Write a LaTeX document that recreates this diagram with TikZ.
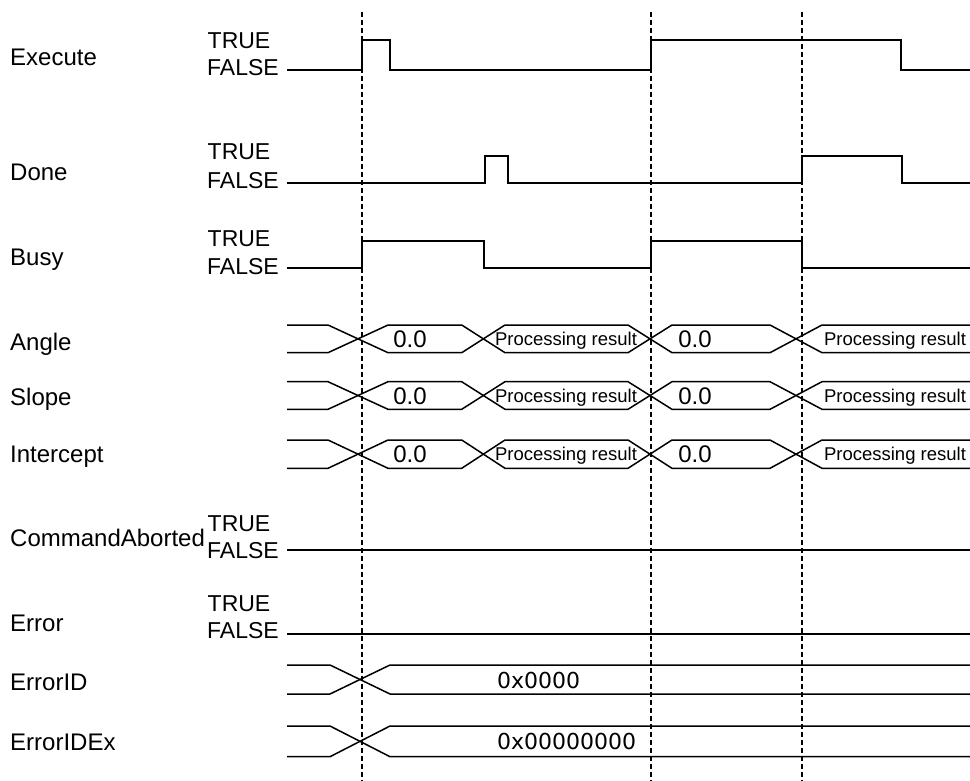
\documentclass[tikz,border=0pt]{standalone}
\usepackage{fontspec}
\setmainfont{Liberation Sans}
\newfontfamily\hexfont{DejaVu Sans}
\begin{document}
\begin{tikzpicture}[x=1pt,y=-1pt,
  wsig/.style={line width=2pt, line join=miter},
  wbus/.style={line width=1.5pt, line join=miter},
  wguide/.style={line width=1.5pt, dash pattern=on 5pt off 3pt},
  lname/.style={inner sep=0pt, anchor=west, text height=17.2pt, text depth=0pt, font=\fontsize{24}{24}\selectfont},
  ltf/.style={inner sep=0pt, anchor=west, text height=16.5pt, text depth=0pt, font=\fontsize{23}{23}\selectfont},
  lval/.style={inner sep=0pt, text height=17.2pt, text depth=0pt, font=\fontsize{24}{24}\selectfont},
  lres/.style={inner sep=0pt, text height=13.2pt, text depth=0pt, font=\fontsize{18.5}{18.5}\selectfont},
  lhex/.style={inner sep=0pt, anchor=west, text height=16pt, text depth=0pt, font=\hexfont\fontsize{22}{22}\selectfont}]
\useasboundingbox (0,0) rectangle (970,781);

% guide lines
\foreach \gx in {362,651,802}
  \draw[wguide] (\gx,12) -- (\gx,781);

% signal names
\node[lname] (nExecute) at (10,57.3) {Execute};
\node[lname] (nDone) at (10,171.7) {Done};
\node[lname] (nBusy) at (10,256.7) {Busy};
\node[lname] (nAngle) at (10,341.7) {Angle};
\node[lname] (nSlope) at (10,396.7) {Slope};
\node[lname] (nIntercept) at (10,454) {Intercept};
\node[lname] (nCmd) at (10,538) {CommandAborted};
\node[lname] (nError) at (10,622.7) {Error};
\node[lname] (nErrorID) at (10,681.7) {ErrorID};
\node[lname] (nErrorIDEx) at (10,741.7) {ErrorIDEx};

% TRUE / FALSE
\node[ltf] (t1) at (207.5,40) {TRUE};
\node[ltf] (f1) at (207,67) {FALSE};
\node[ltf] (t2) at (207.5,151.7) {TRUE};
\node[ltf] (f2) at (207,180) {FALSE};
\node[ltf] (t3) at (207.5,238.3) {TRUE};
\node[ltf] (f3) at (207,266.7) {FALSE};
\node[ltf] (t4) at (207.5,523) {TRUE};
\node[ltf] (f4) at (207,550.3) {FALSE};
\node[ltf] (t5) at (207.5,603.3) {TRUE};
\node[ltf] (f5) at (207,630) {FALSE};

% boolean waveforms
\draw[wsig] (287,70.5) -- (362,70.5) -- (362,40.5) -- (390,40.5) -- (390,70.5)
  -- (651,70.5) -- (651,40.5) -- (901,40.5) -- (901,70.5) -- (970,70.5);
\draw[wsig] (287,183.3) -- (484.5,183.3) -- (484.5,156.5) -- (507.7,156.5) -- (507.7,183.3)
  -- (802,183.3) -- (802,156.5) -- (902,156.5) -- (902,183.3) -- (970,183.3);
\draw[wsig] (287,268.3) -- (362,268.3) -- (362,240.7) -- (484,240.7) -- (484,268.3)
  -- (651,268.3) -- (651,240.7) -- (802,240.7) -- (802,268.3) -- (970,268.3);
\draw[wsig] (287,550) -- (970,550);
\draw[wsig] (287,633.5) -- (970,633.5);

% value buses
\foreach \t/\b/\c [count=\i] in {325/352.7/338.9, 381.7/409.3/395.5, 440/468.3/454.2} {
  \draw[wbus] (287,\t) -- (328,\t) -- (388,\b) -- (461.7,\b) -- (505,\t) -- (628,\t)
    -- (672,\b) -- (770,\b) -- (822,\t) -- (970,\t);
  \draw[wbus] (287,\b) -- (328,\b) -- (388,\t) -- (461.7,\t) -- (505,\b) -- (628,\b)
    -- (672,\t) -- (770,\t) -- (822,\b) -- (970,\b);
  \node[lval] (za\i) at (410,\c) {0.0};
  \node[lres] (ra\i) at (566,\c) {Processing result};
  \node[lval] (zb\i) at (695,\c) {0.0};
  \node[lres] (rb\i) at (895,\c) {Processing result};
}

% error buses
\foreach \t/\b in {665/694, 726/756.7} {
  \draw[wbus] (287,\t) -- (330,\t) -- (390,\b) -- (970,\b);
  \draw[wbus] (287,\b) -- (330,\b) -- (390,\t) -- (970,\t);
}
\node[lhex] (hexID) at (497,680.3) {0x0000};
\node[lhex] (hexIDEx) at (497,741) {0x00000000};
\end{tikzpicture}
\end{document}
